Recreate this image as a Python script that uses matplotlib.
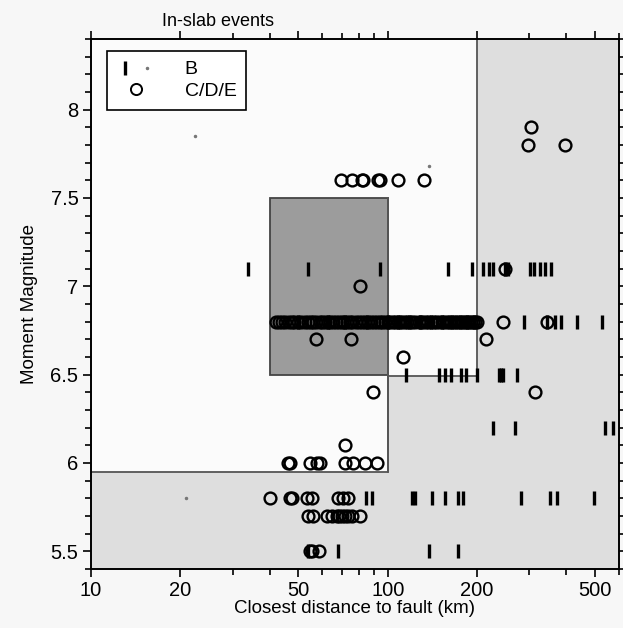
import matplotlib.pyplot as plt
from matplotlib.lines import Line2D
from matplotlib.legend_handler import HandlerTuple
from matplotlib.ticker import FixedLocator, NullFormatter

plt.rcParams['font.family'] = ['Liberation Sans', 'DejaVu Sans']

# C/D/E events (open circles)
cde_dist = [303, 296, 397,
            69.5, 75.7, 81.7, 82.5, 92.5, 94, 108, 133,
            80.5, 248, 244, 343,
            57.3, 75, 215, 113, 89, 313, 71.6,
            46, 47, 54.6, 57.6, 59, 71.6, 76.2, 83.7, 91.9,
            40, 46.8, 47.5, 53.4, 55.4, 67.9, 70.5, 73.3,
            53.8, 55.9, 62.3, 64.8, 67.3, 68.5, 69.9, 71.6, 73.3, 75.7, 80.5,
            54.6, 55.5, 58.6]
cde_mag = [7.9, 7.8, 7.8,
           7.6, 7.6, 7.6, 7.6, 7.6, 7.6, 7.6, 7.6,
           7.0, 7.1, 6.8, 6.8,
           6.7, 6.7, 6.7, 6.6, 6.4, 6.4, 6.1,
           6.0, 6.0, 6.0, 6.0, 6.0, 6.0, 6.0, 6.0, 6.0,
           5.8, 5.8, 5.8, 5.8, 5.8, 5.8, 5.8, 5.8,
           5.7, 5.7, 5.7, 5.7, 5.7, 5.7, 5.7, 5.7, 5.7, 5.7, 5.7,
           5.5, 5.5, 5.5]

# the crowded M 6.8 row of C/D/E events
row68_dist = [42, 43, 44, 45, 46.5, 47.5, 48.5, 50, 51, 52.5, 54, 55, 56, 57.5,
              59, 60, 61.5, 63, 64, 65.5, 67, 68.5, 70, 71.5, 73, 74.5, 76, 78,
              80, 82, 84, 86, 88, 90, 92, 94, 96, 98, 100, 102, 104, 106, 108,
              110, 112, 114, 116, 119, 121, 124, 127, 129, 132, 135, 137, 140,
              143, 146, 149, 152, 155, 158, 161, 164, 167, 170, 173, 176, 179,
              182, 185, 188, 191, 194, 197, 200]

# B events (vertical bars)
b_dist = [33.8, 53.8, 94, 160, 192, 209, 220, 226, 248, 254, 301, 312, 325, 338, 354,
          50, 63, 72, 85, 100, 108, 118, 128, 140, 152, 165, 175, 185, 195,
          289, 343, 365, 385, 436, 526,
          115, 149, 156, 163, 177, 183, 200, 238, 241, 244, 272,
          227, 268, 538, 573,
          84.8, 88.3, 121, 124, 141, 156, 173, 179, 281, 351, 373, 494,
          54, 67.9, 138, 173]
b_mag = [7.1] * 15 + [6.8] * 20 + [6.5] * 11 + [6.2] * 4 + [5.8] * 12 + [5.5] * 4

# B events (small dots)
dot_dist = [22.4, 20.9, 138]
dot_mag = [7.85, 5.8, 7.68]

fig = plt.figure(figsize=(6.23, 6.28), dpi=100, facecolor='#f7f7f7')
ax = fig.add_axes([0.146, 0.094, 0.847, 0.844])
ax.set_facecolor('#fbfbfb')
ax.set_xscale('log')
ax.set_xlim(10, 600)
ax.set_ylim(5.4, 8.4)

# light grey region (staircase)
stair_x = [10, 100, 100, 200, 200, 600, 600, 10]
stair_y = [5.95, 5.95, 6.49, 6.49, 8.4, 8.4, 5.4, 5.4]
ax.fill(stair_x, stair_y, color='#dedede', zorder=0)
ax.plot([10, 100, 100, 200, 200], [5.95, 5.95, 6.49, 6.49, 8.4], color='#555555', lw=1.3, zorder=1)

# dark grey box
ax.fill([40, 100, 100, 40], [6.5, 6.5, 7.5, 7.5], facecolor='#9c9c9c', edgecolor='#444444', lw=1.3, zorder=1)
ax.plot([100, 100], [5.95, 7.5], color='#555555', lw=1.3, zorder=1)

ax.plot(cde_dist, cde_mag, ls='', marker='o', ms=8.5, mfc='none', mec='black', mew=1.7, zorder=3)
ax.plot(row68_dist, [6.8] * len(row68_dist), ls='', marker='o', ms=8.5, mfc='none',
        mec='black', mew=1.7, zorder=3)
ax.plot(b_dist, b_mag, ls='', marker='|', ms=10, mew=2.4, color='black', zorder=3)
ax.plot(dot_dist, dot_mag, ls='', marker='.', ms=3, color='#777777', zorder=3)

ax.xaxis.set_major_locator(FixedLocator([10, 20, 50, 100, 200, 500]))
ax.xaxis.set_minor_locator(FixedLocator([30, 40, 60, 70, 80, 90, 300, 400, 600]))
ax.xaxis.set_minor_formatter(NullFormatter())
ax.set_xticklabels(['10', '20', '50', '100', '200', '500'])
ax.set_yticks([5.5, 6, 6.5, 7, 7.5, 8])
ax.set_yticklabels(['5.5', '6', '6.5', '7', '7.5', '8'])
ax.yaxis.set_minor_locator(FixedLocator([5.4 + 0.1 * i for i in range(31)]))
ax.tick_params(which='both', direction='out', top=True, right=True, labelsize=14.5, width=1.2)
ax.tick_params(which='major', length=6, pad=3)
ax.tick_params(which='minor', length=4)
for s in ax.spines.values():
    s.set_linewidth(1.4)

ax.set_xlabel('Closest distance to fault (km)', fontsize=13.5, labelpad=0)
ax.set_ylabel('Moment Magnitude', fontsize=13.5, labelpad=9)
fig.text(0.35, 0.966, 'In-slab events', fontsize=13, ha='center', va='center')

h_bar = Line2D([], [], ls='', marker='|', ms=10, mew=2.4, color='black')
h_dot = Line2D([], [], ls='', marker='.', ms=3, color='#777777')
h_circ = Line2D([], [], ls='', marker='o', ms=8, mfc='none', mec='black', mew=1.4)
leg = ax.legend([(h_bar, h_dot), h_circ], ['B', 'C/D/E'],
                handler_map={tuple: HandlerTuple(ndivide=None, pad=0.2)},
                loc='upper left', bbox_to_anchor=(0.03, 0.977), borderaxespad=0,
                fancybox=False, edgecolor='black', framealpha=1, fontsize=14,
                handlelength=2.0, handletextpad=1.5, borderpad=0.5, labelspacing=0.2)
leg.get_frame().set_linewidth(1.2)

fig.savefig('out.png', dpi=100, facecolor=fig.get_facecolor())
